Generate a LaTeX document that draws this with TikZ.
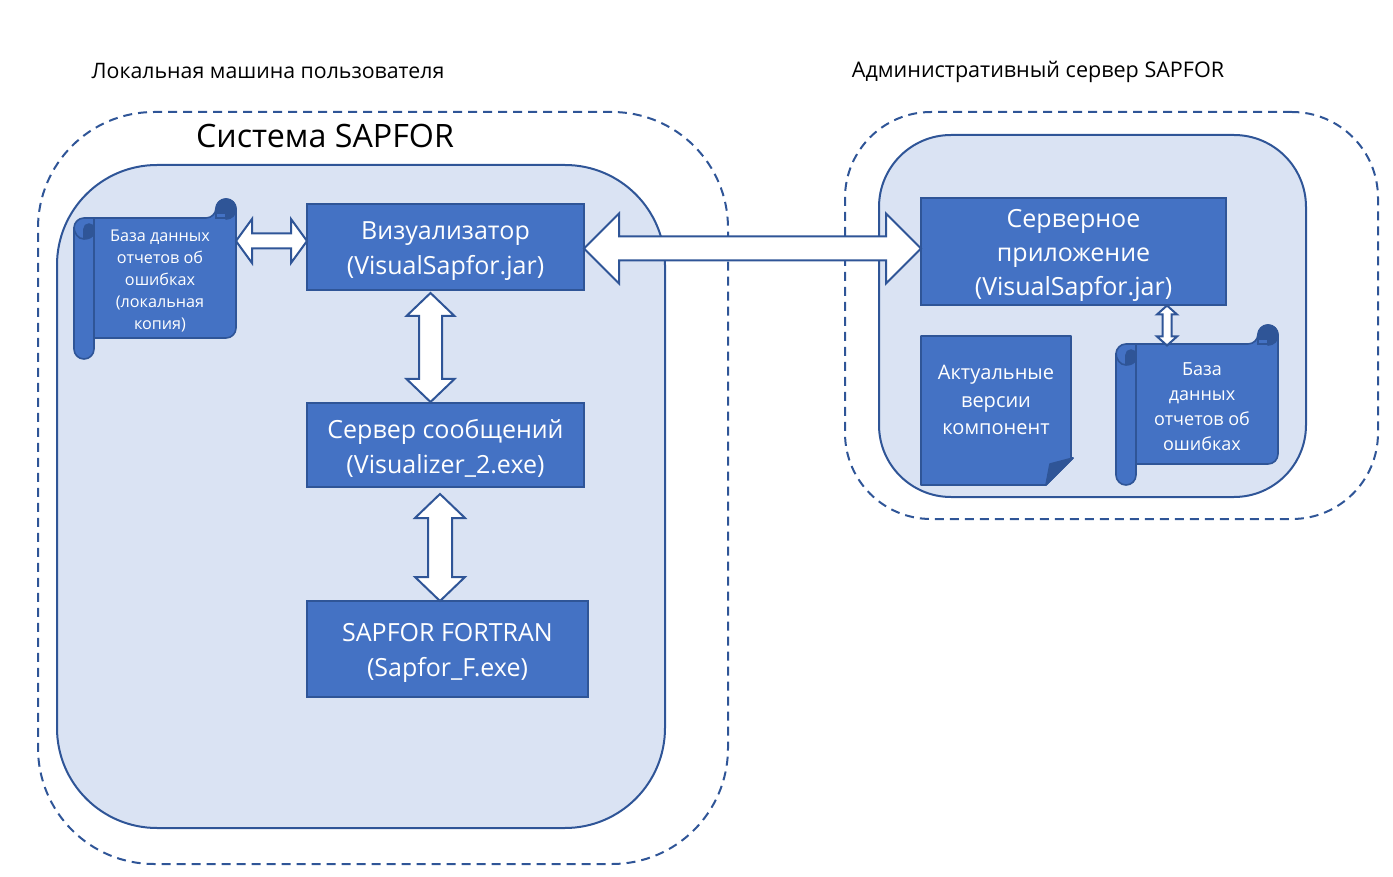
\documentclass[tikz,border=0pt]{standalone}
\usepackage{fontspec}
\setmainfont{Open Sans}
\usetikzlibrary{calc,positioning}
\definecolor{officeblue}{HTML}{4472C4}
\definecolor{officeline}{HTML}{2F5597}
\definecolor{officedark}{HTML}{2F5597}
\definecolor{officepale}{HTML}{DAE3F3}
\tikzset{
  outerframe/.style={draw=officeline,line width=1pt,dash pattern=on 4.5pt off 3pt,rounded corners=#1,inner sep=0pt,outer sep=0pt},
  panel/.style={draw=officeline,line width=1pt,fill=officepale,rounded corners=#1,inner sep=0pt,outer sep=0pt},
  bluebox/.style={draw=officeline,line width=1pt,fill=officeblue,text=white,inner sep=0pt,outer sep=0pt,align=center,font=\fontsize{12.5}{17.2}\selectfont},
  bluepath/.style={draw=officeline,line width=.8pt,fill=officeblue,line join=round},
  darkpath/.style={draw=officeline,line width=.8pt,fill=officedark,line join=round},
  bluetext/.style={text=white,inner sep=0pt,align=center},
  blockarrow/.style={draw=officeline,line width=1pt,fill=white,line join=miter},
  caption/.style={inner sep=0pt,text=black}
}
\newcommand{\boxat}[5]{\node[bluebox,minimum width=#3,minimum height=#4] (#1) at #2 {\rule{0pt}{13pt}#5};}
\newcommand{\scrollat}[2]{
  \begin{scope}[shift={#2}]
    \draw[bluepath] (142,19) [rounded corners=5pt] -- (142,0) -- (162,0) -- (162,139) [sharp corners] -- (20,139) [rounded corners=5pt] -- (20,160) -- (0,160) -- (0,19) -- cycle;
    \draw[darkpath] (142,14) -- (142,10) arc[start angle=180,end angle=0,radius=5pt] to[out=-90,in=0] (152,20) -- (152,14) -- cycle;
    \draw[darkpath] (10,40) -- (10,30) arc[start angle=180,end angle=0,radius=2.5pt] -- (20,33) to[out=-90,in=0] (10,40);
    \draw[officeline,line width=.8pt] (0,28) to[out=-90,in=180] (10,40) (20,20) -- (20,139);
    \draw[officeline,line width=.8pt] (142,14) -- (142,19) -- (152,19);
  \end{scope}
}
\newcommand{\connectwide}[5]{
  \path coordinate (p) at ($(#1)!#3!(#2)$) coordinate (q) at ($(#2)!#3!(#1)$);
  \draw[blockarrow] (#1) -- ($(p)!#4!90:(#1)$) -- ($(p)!#5!90:(#1)$) -- ($(q)!#5!-90:(#2)$) -- ($(q)!#4!-90:(#2)$) -- (#2)
    -- ($(q)!#4!90:(#2)$) -- ($(q)!#5!90:(#2)$) -- ($(p)!#5!-90:(#1)$) -- ($(p)!#4!-90:(#1)$) -- cycle;
}
\begin{document}
\begin{tikzpicture}[x=0.5pt,y=-0.5pt]
  \useasboundingbox (0,0) rectangle (1393,877);
  \node[outerframe=58pt,minimum width=345pt,minimum height=376pt] (LocalFrame) at (383,488) {};
  \node[outerframe=43pt,minimum width=266.5pt,minimum height=203.5pt] (AdminFrame) at (1111.5,315.5) {};
  \node[panel=50pt,minimum width=304pt,minimum height=331.5pt] (LocalPanel) at (361,496.5) {};
  \node[panel=36pt,minimum width=213.5pt,minimum height=181pt] (AdminPanel) at (1092.5,316) {};
  \node[caption,font=\fontsize{10.65}{13}\selectfont] (LocalCap) at (268,71) {Локальная машина пользователя};
  \node[caption,font=\fontsize{10.78}{13}\selectfont] (AdminCap) at (1038,72) {Административный сервер SAPFOR};
  \node[caption,font=\fontsize{16.1}{18}\selectfont] (SystemCap) at (325,136) {Система SAPFOR};
  \boxat{Viz}{(445.5,247)}{138.5pt}{43pt}{Визуализатор\\(VisualSapfor.jar)}
  \boxat{MsgServer}{(445.5,445)}{138.5pt}{42pt}{Сервер сообщений\\(Visualizer\_2.exe)}
  \boxat{Fortran}{(447.5,649)}{140.5pt}{48pt}{SAPFOR FORTRAN\\(Sapfor\_F.exe)}
  \boxat{ServerApp}{(1073.5,251.5)}{152.5pt}{53.5pt}{Серверное\\приложение\\(VisualSapfor.jar)}
  \scrollat{LocalDb}{(74,199)}
  \node[bluetext,font=\fontsize{8.1}{11}\selectfont] (LocalDb) at (160,281) {База данных\\отчетов об\\ошибках\\(локальная\\копия)};
  \scrollat{ServerDb}{(1116,325)}
  \node[bluetext,font=\fontsize{9}{12.5}\selectfont] (ServerDb) at (1202,407) {База\\данных\\отчетов об\\ошибках};
  \draw[bluepath] (921,336) -- (1071,336) -- (1071,458) -- (1073,458) -- (1046,485) -- (921,485) -- cycle;
  \draw[darkpath] (1046,485) -- (1050,464) -- (1073,458) -- cycle;
  \node[bluetext,font=\fontsize{10}{13.75}\selectfont] (Versions) at (996,400) {Актуальные\\версии\\компонент};
  \coordinate (DbR) at (236,241);
  \coordinate (VizL) at ([yshift=3pt]Viz.west);
  \coordinate (VizR) at ([yshift=-.75pt]Viz.east);
  \coordinate (AppL) at ([yshift=1.5pt]ServerApp.west);
  \coordinate (VizB) at ([xshift=-7.5pt,yshift=-1.5pt]Viz.south);
  \coordinate (MsgT) at ([xshift=-7.5pt,yshift=.5pt]MsgServer.north);
  \coordinate (MsgB) at ([xshift=-2.75pt,yshift=-3.5pt]MsgServer.south);
  \coordinate (ForT) at ([xshift=-3.75pt]Fortran.north);
  \coordinate (AppB) at ([xshift=46.75pt,yshift=-.25pt]ServerApp.south);
  \coordinate (DbT) at ([xshift=46.75pt,yshift=-.25pt]ServerApp.south |- 0,345);
  \connectwide{DbR}{VizL}{8pt}{11pt}{3.75pt}
  \connectwide{VizR}{AppL}{17.5pt}{17.5pt}{6pt}
  \connectwide{VizB}{MsgT}{11.5pt}{12pt}{5.75pt}
  \connectwide{MsgB}{ForT}{12pt}{12.5pt}{6pt}
  \connectwide{AppB}{DbT}{4.5pt}{5pt}{2.25pt}
\end{tikzpicture}
\end{document}
